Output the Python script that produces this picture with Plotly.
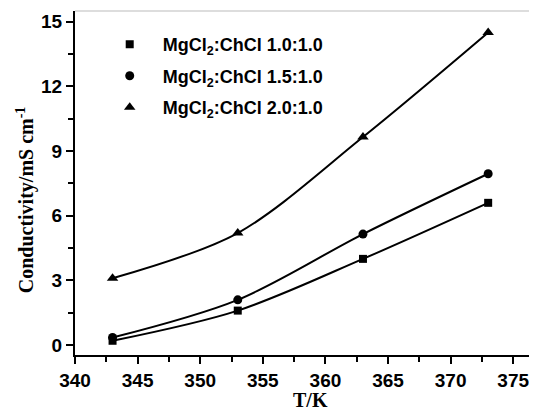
import plotly.graph_objects as go

temperature = [343, 353, 363, 373]
cond_1_0 = [0.2, 1.6, 4.0, 6.6]
cond_1_5 = [0.35, 2.1, 5.15, 7.95]
cond_2_0 = [3.1, 5.2, 9.65, 14.5]
series_names = ["MgCl<sub>2</sub>:ChCl 1.0:1.0", "MgCl<sub>2</sub>:ChCl 1.5:1.0", "MgCl<sub>2</sub>:ChCl 2.0:1.0"]
x_ticks = [340, 345, 350, 355, 360, 365, 370, 375]
y_ticks = [0, 3, 6, 9, 12, 15]

fig = go.Figure()
symbols = ["square", "circle", "triangle-up"]
sizes = [8, 9, 10]
all_series = [cond_1_0, cond_1_5, cond_2_0]
for i, vals in enumerate(all_series):
    fig.add_trace(go.Scatter(
        x=temperature, y=vals, mode="lines", showlegend=False, hoverinfo="skip",
        line=dict(color="black", width=2, shape="spline", smoothing=0.9),
    ))
for i, (vals, name) in enumerate(zip(all_series, series_names)):
    fig.add_trace(go.Scatter(
        x=temperature, y=vals, name=name, mode="markers",
        marker=dict(symbol=symbols[i], size=sizes[i], color="black"),
        legendgroup=f"g{i}",
    ))

tickfont = dict(family="Liberation Sans, Arial", size=19, color="black", weight="bold")
serif = "Liberation Serif, Times New Roman"
# page has an 8px body margin, so the figure is sized/positioned to compensate
fig.update_layout(
    width=529, height=412,
    margin=dict(l=67, r=0, t=3, b=65, autoexpand=False),
    paper_bgcolor="white", plot_bgcolor="white",
    showlegend=True,
    legend=dict(x=0.047, y=0.956, xanchor="left", yanchor="top",
                bgcolor="rgba(0,0,0,0)", borderwidth=0,
                font=dict(family="Liberation Sans, Arial", size=18, color="black", weight="bold"),
                tracegroupgap=5, itemwidth=56),
    xaxis=dict(range=[340, 376.9], tickvals=x_ticks, showgrid=False, zeroline=False,
               automargin=False,
               showline=True, linecolor="black", linewidth=2,
               ticks="outside", ticklen=7, tickwidth=1.5, tickcolor="black",
               tickfont=tickfont,
               minor=dict(dtick=2.5, ticks="outside", ticklen=5, tickwidth=1.5, tickcolor="black", showgrid=False)),
    yaxis=dict(range=[-0.46, 15.5], tickvals=y_ticks, showgrid=False, zeroline=False,
               automargin=False,
               showline=True, linecolor="black", linewidth=2,
               ticks="outside", ticklen=7, tickwidth=1.5, tickcolor="black",
               tickfont=tickfont,
               minor=dict(dtick=1.5, ticks="outside", ticklen=5, tickwidth=1.5, tickcolor="black", showgrid=False)),
    annotations=[
        dict(text="Conductivity/mS cm<sup>-1</sup>", xref="paper", yref="paper",
             x=-0.108, y=0.45, xanchor="center", yanchor="middle", textangle=-90,
             showarrow=False,
             font=dict(family=serif, size=20, color="black", weight="bold")),
        dict(text="T/K", xref="paper", yref="paper",
             x=0.509, y=-0.131, xanchor="center", yanchor="middle",
             showarrow=False,
             font=dict(family=serif, size=20, color="black", weight="bold")),
    ],
    shapes=[dict(type="line", xref="paper", yref="paper", x0=0, x1=1, y0=1, y1=1,
                 line=dict(color="#bbbbbb", width=1))],
)

fig.write_html("out.html")
